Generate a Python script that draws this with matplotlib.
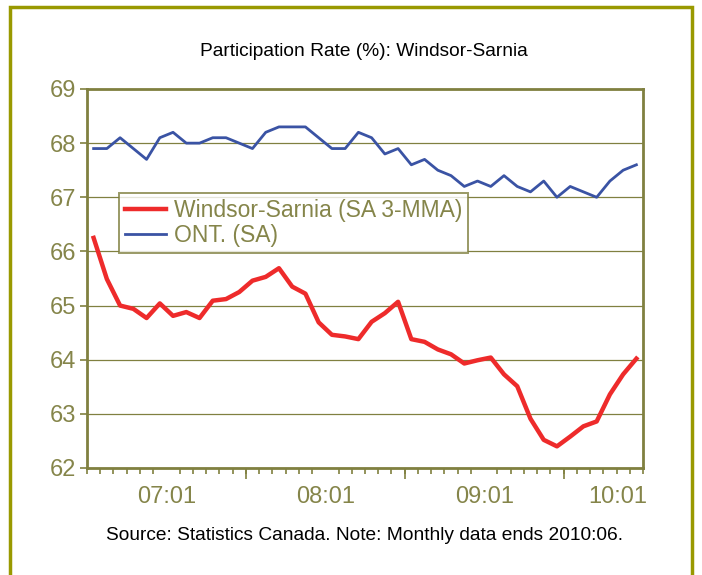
import numpy as np
import matplotlib
matplotlib.use("Agg")
import matplotlib.pyplot as plt
from matplotlib.patches import Rectangle

plt.rcParams['font.family'] = ['Liberation Sans', 'DejaVu Sans']

# monthly series, 2007:01 .. 2010:06
windsor = [66.25, 65.49, 65.00, 64.94, 64.77, 65.04, 64.81, 64.88, 64.77, 65.09,
           65.12, 65.25, 65.46, 65.53, 65.69, 65.35, 65.22, 64.69, 64.46, 64.43,
           64.38, 64.70, 64.86, 65.07, 64.38, 64.33, 64.19, 64.10, 63.93, 63.99,
           64.04, 63.73, 63.51, 62.91, 62.52, 62.40, 62.58, 62.77, 62.86, 63.36,
           63.73, 64.02]
ontario = [67.9, 67.9, 68.1, 67.9, 67.7, 68.1, 68.2, 68.0, 68.0, 68.1,
           68.1, 68.0, 67.9, 68.2, 68.3, 68.3, 68.3, 68.1, 67.9, 67.9,
           68.2, 68.1, 67.8, 67.9, 67.6, 67.7, 67.5, 67.4, 67.2, 67.3,
           67.2, 67.4, 67.2, 67.1, 67.3, 67.0, 67.2, 67.1, 67.0, 67.3,
           67.5, 67.6]
year_labels = ['07:01', '08:01', '09:01', '10:01']
year_label_pos = [5.5, 17.5, 29.5, 39.6]
yticks = [62, 63, 64, 65, 66, 67, 68, 69]

olive = '#808040'
text_olive = '#85854a'

fig = plt.figure(figsize=(7.02, 5.75), dpi=100)
ax = fig.add_axes([87/702, 107/575, 556/702, 379/575])

x = np.arange(len(windsor))
ax.plot(x, windsor, color='#ee2b2b', lw=3.2, label='Windsor-Sarnia (SA 3-MMA)', zorder=3)
ax.plot(x, ontario, color='#3a53a4', lw=2.0, label='ONT. (SA)', zorder=3)

ax.set_xlim(-0.5, len(windsor) - 0.5)
ax.set_ylim(62, 69)
ax.set_yticks(yticks)
ax.yaxis.grid(True, color=olive, lw=0.9)
ax.set_axisbelow(True)

for s in ax.spines.values():
    s.set_color(olive)
    s.set_linewidth(2.0)

ax.tick_params(axis='y', colors=olive, labelcolor=text_olive, labelsize=17,
               length=5, width=1.2, direction='out', pad=3)
ax.set_yticklabels([str(v) for v in yticks])

# year labels sit between the yearly tick marks; month ticks underneath
ax.set_xticks(year_label_pos)
ax.set_xticklabels(year_labels)
ax.set_xticks(np.arange(-0.5, len(windsor), 1), minor=True)
ax.tick_params(axis='x', which='major', length=0, labelcolor=text_olive,
               labelsize=17, pad=13)
ax.tick_params(axis='x', which='minor', length=4, width=1.2, color=olive)
sec = ax.secondary_xaxis('bottom')
sec.set_xticks([11.5, 23.5, 35.5])
sec.set_xticklabels([])
sec.tick_params(length=8, width=1.2, color=olive)
sec.spines['bottom'].set_visible(False)

leg = ax.legend(loc='upper left', bbox_to_anchor=(32/556, 275/379),
                borderaxespad=0, fontsize=16.5, frameon=True, fancybox=False,
                handlelength=1.8, handletextpad=0.35, borderpad=0.25,
                labelspacing=0.1, labelcolor=text_olive)
leg.get_frame().set_edgecolor(olive)
leg.get_frame().set_linewidth(1.4)

fig.text(364/702, 1 - 52/575, 'Participation Rate (%): Windsor-Sarnia',
         ha='center', va='center', fontsize=13.8, color='black')
fig.text(364/702, 1 - 535/575,
         'Source: Statistics Canada. Note: Monthly data ends 2010:06.',
         ha='center', va='center', fontsize=13.8, color='black')

fig.patches.append(Rectangle((10/702, -0.05), 682/702, 1.05 - 7/575,
                             transform=fig.transFigure, fill=False,
                             edgecolor='#999900', lw=2.5))

fig.savefig('out.png', dpi=100)
